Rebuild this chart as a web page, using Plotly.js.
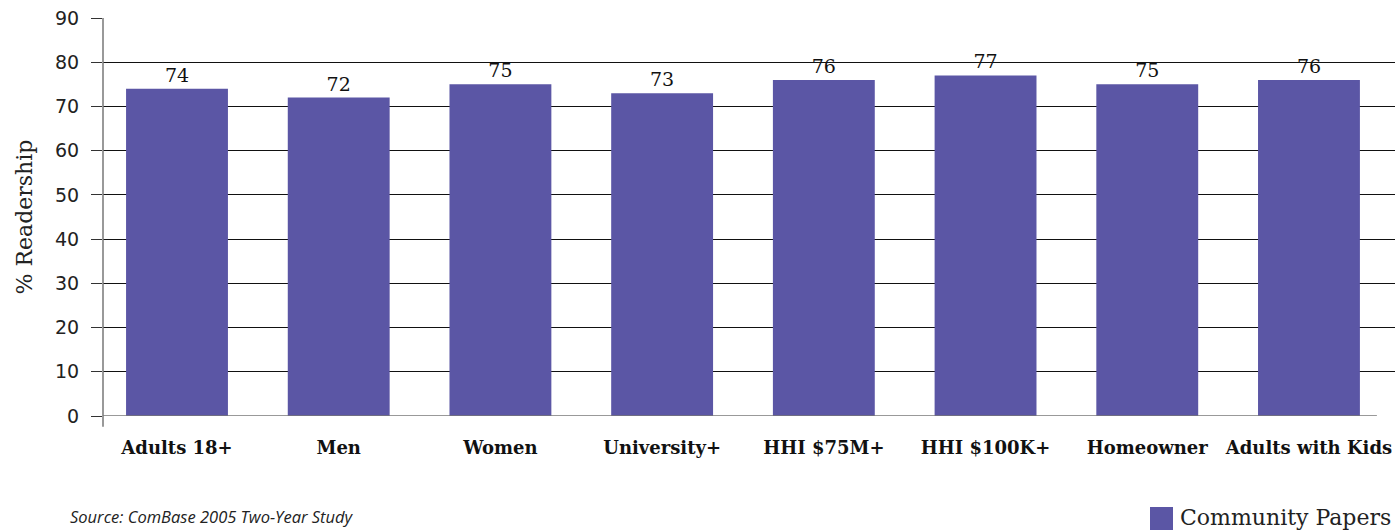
<!DOCTYPE html>
<html>
<head>
<meta charset="utf-8">
<script src="https://cdn.plot.ly/plotly-3.0.1.min.js"></script>
<style>
  html, body { margin: 0; padding: 0; background: #fff; }
  #chart { width: 1399px; height: 530px; }
</style>
</head>
<body>
<div id="chart"></div>
<script>
// Readership by audience segment
const categories = ['Adults 18+', 'Men', 'Women', 'University+', 'HHI $75M+', 'HHI $100K+', 'Homeowner', 'Adults with Kids'];
const readership = [74, 72, 75, 73, 76, 77, 75, 76];
const seriesName = 'Community Papers';
const sourceNote = 'Source: ComBase 2005 Two-Year Study';
const yTicks = [0, 10, 20, 30, 40, 50, 60, 70, 80, 90];

const barColor = '#5b56a5';
const xIdx = categories.map((_, i) => i);

const trace = {
  type: 'bar',
  x: xIdx,
  y: readership,
  name: seriesName,
  marker: { color: barColor },
  text: readership.map(String),
  textposition: 'outside',
  cliponaxis: false,
  textfont: { family: 'DejaVu Serif', size: 19, color: '#111' },
  hoverinfo: 'none'
};

const xStart = -0.4576, xEnd = 7.532;

const layout = {
  width: 1399,
  height: 530,
  margin: { l: 103, r: 4, t: 18, b: 114 },
  paper_bgcolor: '#fff',
  plot_bgcolor: '#fff',
  showlegend: false,
  bargap: 0.37,
  xaxis: {
    range: [xStart, xEnd],
    tickmode: 'array',
    tickvals: xIdx,
    ticktext: categories,
    showgrid: false,
    zeroline: false,
    showline: false,
    ticks: '',
    ticklabelstandoff: 19,
    tickfont: { family: 'DejaVu Serif', size: 18, color: '#111', weight: 'bold' },
    fixedrange: true
  },
  yaxis: {
    range: [0, 90],
    tickmode: 'array',
    tickvals: yTicks,
    showgrid: true,
    gridcolor: '#111',
    gridwidth: 1,
    zeroline: false,
    showline: false,
    ticks: 'outside',
    ticklen: 11,
    tickcolor: '#333',
    tickwidth: 1,
    ticklabelstandoff: 8,
    tickfont: { family: 'DejaVu Sans', size: 19, color: '#222' },
    title: { text: '% Readership', font: { family: 'DejaVu Serif', size: 22, color: '#222' }, standoff: 16 },
    fixedrange: true
  },
  shapes: [
    // vertical value axis, running a little below the baseline
    { type: 'line', xref: 'paper', yref: 'paper', x0: 0, x1: 0, y0: -0.027, y1: 1,
      line: { color: '#777', width: 1.5 } },
    // baseline
    { type: 'line', xref: 'x', yref: 'y', x0: xStart, x1: 7.42, y0: 0, y1: 0,
      line: { color: '#777', width: 1.5 } },
    // legend swatch
    { type: 'rect', xref: 'paper', yref: 'paper', x0: (1150 - 103) / 1292, x1: (1173 - 103) / 1292,
      y0: -(530 - 416) / 398, y1: -(507 - 416) / 398,
      fillcolor: barColor, line: { width: 0 } }
  ],
  annotations: [
    { xref: 'paper', yref: 'paper', x: (68 - 103) / 1292, y: -(516 - 416) / 398,
      xanchor: 'left', yanchor: 'middle', showarrow: false, text: sourceNote,
      font: { family: 'Open Sans', size: 16.5, color: '#222', style: 'italic' } },
    { xref: 'paper', yref: 'paper', x: (1178 - 103) / 1292, y: -(517 - 416) / 398,
      xanchor: 'left', yanchor: 'middle', showarrow: false, text: seriesName,
      font: { family: 'DejaVu Serif', size: 22, color: '#222' } }
  ]
};

Plotly.newPlot('chart', [trace], layout, { displayModeBar: false, staticPlot: true });
</script>
</body>
</html>
